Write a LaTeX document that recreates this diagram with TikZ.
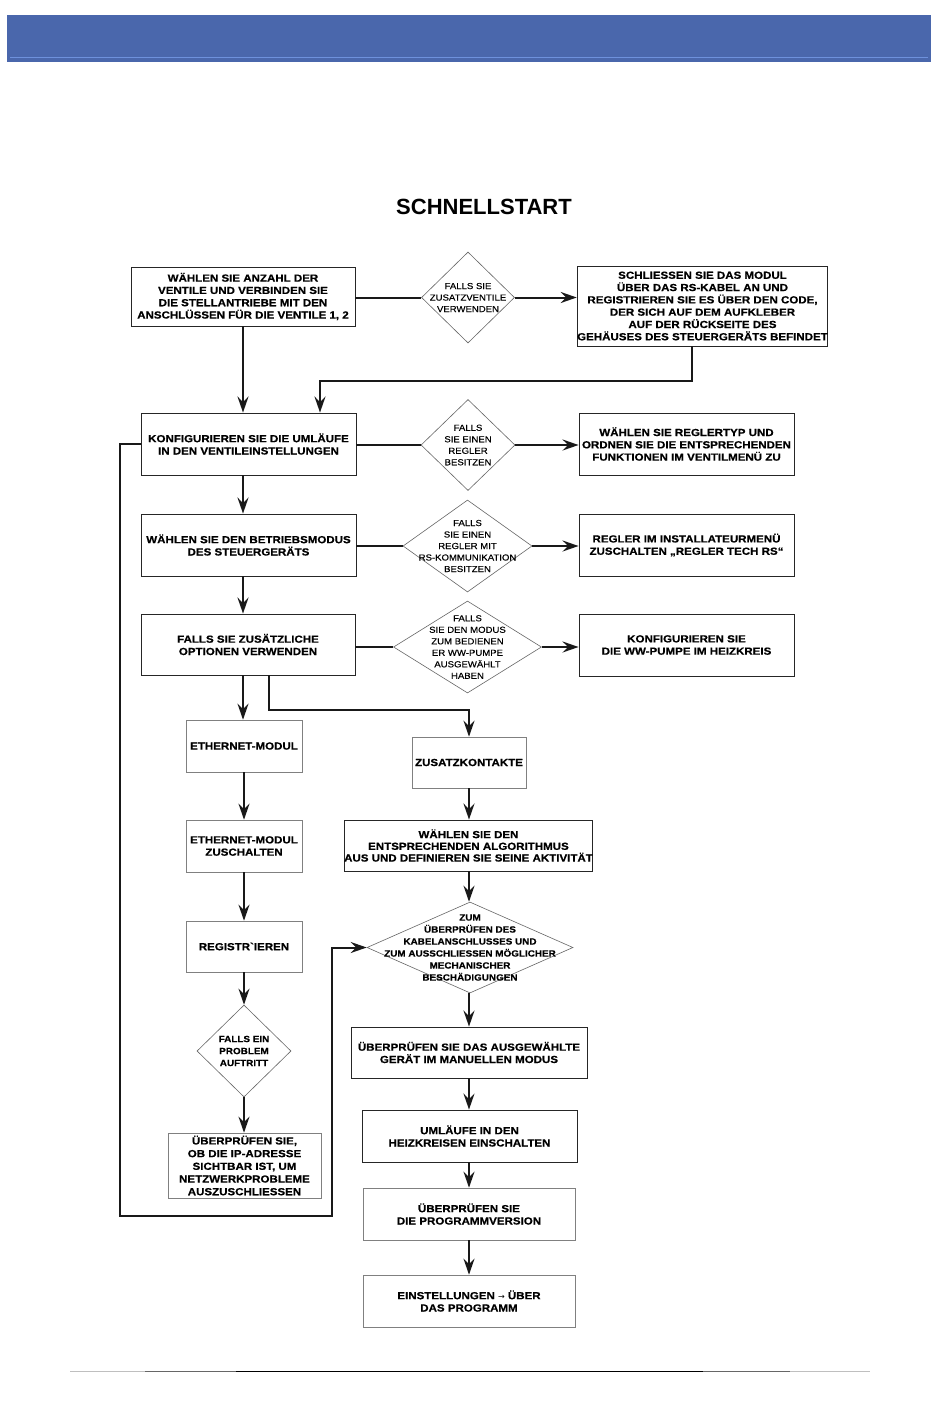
\documentclass[tikz,border=0pt]{standalone}
\usepackage{fontspec}
\setmainfont{Liberation Sans}
\newfontfamily\bxfont[FakeStretch=1.12, BoldFeatures={FakeBold=0.6}]{Liberation Sans}
\newfontfamily\dmfont[FakeStretch=1.1, FakeBold=0.3, BoldFeatures={FakeBold=0.5}]{Liberation Sans}
\newfontfamily\symfont{DejaVu Sans}
\usetikzlibrary{shapes.geometric,arrows.meta,calc}
\definecolor{hdrblue}{RGB}{74,103,172}
\definecolor{hdrline}{RGB}{110,145,220}
\begin{document}
\begin{tikzpicture}[x=1pt,y=-1pt,
 box/.style={draw=black!85, line width=0.9pt, rectangle, inner sep=0pt, align=center,
   font=\bxfont\bfseries\fontsize{10.3}{12.3}\selectfont},
 lbox/.style={box, draw=black!50, line width=0.6pt},
 diam/.style={draw=black!60, line width=0.6pt, diamond, inner sep=0pt},
 dtext/.style={align=center, inner sep=0pt, font=\dmfont\fontsize{8.7}{11.5}\selectfont},
 dbtext/.style={align=center, inner sep=0pt, font=\dmfont\bfseries\fontsize{9}{12}\selectfont},
 conn/.style={line width=2pt, draw=black!90},
 arr/.style={conn, -{Stealth[length=16pt,width=11pt,inset=5.5pt]}},
 ]
\useasboundingbox (0,0) rectangle (950,1408);
\fill[white] (0,0) rectangle (950,1408);

% header band
\fill[hdrblue] (7,15) rectangle (931,62);
\draw[hdrline, line width=1pt] (10,57) -- (928,57);

% title
\node[font=\bfseries\fontsize{22}{26}\selectfont] (title) at (484,207) {SCHNELLSTART};

% row 1
\node[box, minimum width=224pt, minimum height=59pt] (B1) at (243,296.5)
  {WÄHLEN SIE ANZAHL DER\\VENTILE UND VERBINDEN SIE\\DIE STELLANTRIEBE MIT DEN\\ANSCHLÜSSEN FÜR DIE VENTILE 1, 2};
\node[diam, minimum width=93pt, minimum height=91pt] (D1) at (468,297.5) {};
\node[dtext] (D1t) at (D1) {FALLS SIE\\ZUSATZVENTILE\\VERWENDEN};
\node[box, minimum width=247pt, minimum height=80pt] (B2) at (702.5,306)
  {SCHLIESSEN SIE DAS MODUL\\ÜBER DAS RS-KABEL AN UND\\REGISTRIEREN SIE ES ÜBER DEN CODE,\\DER SICH AUF DEM AUFKLEBER\\AUF DER RÜCKSEITE DES\\GEHÄUSES DES STEUERGERÄTS BEFINDET};

% row 2
\node[box, minimum width=215pt, minimum height=62pt] (B3) at (248.5,444)
  {KONFIGURIEREN SIE DIE UMLÄUFE\\IN DEN VENTILEINSTELLUNGEN};
\node[diam, minimum width=94pt, minimum height=91pt] (D2) at (468,445) {};
\node[dtext] (D2t) at (D2) {FALLS\\SIE EINEN\\REGLER\\BESITZEN};
\node[box, minimum width=215pt, minimum height=62pt] (B4) at (686.5,444)
  {WÄHLEN SIE REGLERTYP UND\\ORDNEN SIE DIE ENTSPRECHENDEN\\FUNKTIONEN IM VENTILMENÜ ZU};

% row 3
\node[box, minimum width=215pt, minimum height=62pt] (B5) at (248.5,545)
  {WÄHLEN SIE DEN BETRIEBSMODUS\\DES STEUERGERÄTS};
\node[diam, minimum width=129pt, minimum height=92pt] (D3) at (467.5,546) {};
\node[dtext] (D3t) at (D3) {FALLS\\SIE EINEN\\REGLER MIT\\RS-KOMMUNIKATION\\BESITZEN};
\node[box, minimum width=215pt, minimum height=62pt] (B6) at (686.5,545)
  {REGLER IM INSTALLATEURMENÜ\\ZUSCHALTEN „REGLER TECH RS“};

% row 4
\node[box, minimum width=214pt, minimum height=61pt] (B7) at (248,644.5)
  {FALLS SIE ZUSÄTZLICHE\\OPTIONEN VERWENDEN};
\node[diam, minimum width=148pt, minimum height=92pt] (D4) at (467.5,647) {};
\node[dtext] (D4t) at (D4) {FALLS\\SIE DEN MODUS\\ZUM BEDIENEN\\ER WW-PUMPE\\AUSGEWÄHLT\\HABEN};
\node[box, minimum width=215pt, minimum height=62pt] (B8) at (686.5,645)
  {KONFIGURIEREN SIE\\DIE WW-PUMPE IM HEIZKREIS};

% left column
\node[lbox, minimum width=116pt, minimum height=52pt] (B9) at (244,746) {ETHERNET-MODUL};
\node[lbox, minimum width=116pt, minimum height=52pt] (B11) at (244,846) {ETHERNET-MODUL\\ZUSCHALTEN};
\node[lbox, minimum width=116pt, minimum height=51pt] (B12) at (244,946.5) {REGISTR`IEREN};
\node[diam, minimum width=94pt, minimum height=92pt] (D5) at (244,1051) {};
\node[dbtext] (D5t) at (D5) {FALLS EIN\\PROBLEM\\AUFTRITT};
\node[lbox, minimum width=153pt, minimum height=65pt, font=\bxfont\bfseries\fontsize{10.3}{12.7}\selectfont] (B13) at (244.5,1165.5)
  {ÜBERPRÜFEN SIE,\\OB DIE IP-ADRESSE\\SICHTBAR IST, UM\\NETZWERKPROBLEME\\AUSZUSCHLIESSEN};

% right column
\node[lbox, minimum width=114pt, minimum height=51pt] (B10) at (469,762.5) {ZUSATZKONTAKTE};
\node[box, minimum width=247pt, minimum height=51pt, font=\bxfont\bfseries\fontsize{10.3}{11.7}\selectfont] (B14) at (468.5,845.5)
  {WÄHLEN SIE DEN\\ENTSPRECHENDEN ALGORITHMUS\\AUS UND DEFINIEREN SIE SEINE AKTIVITÄT};
\node[diam, minimum width=206pt, minimum height=91pt] (D7) at (470,947.5) {};
\node[dbtext] (D7t) at (D7) {ZUM\\ÜBERPRÜFEN DES\\KABELANSCHLUSSES UND\\ZUM AUSSCHLIESSEN MÖGLICHER\\MECHANISCHER\\BESCHÄDIGUNGEN};
\node[box, minimum width=236pt, minimum height=51pt] (B15) at (469,1052.5)
  {ÜBERPRÜFEN SIE DAS AUSGEWÄHLTE\\GERÄT IM MANUELLEN MODUS};
\node[box, minimum width=215pt, minimum height=52pt] (B16) at (469.5,1136)
  {UMLÄUFE IN DEN\\HEIZKREISEN EINSCHALTEN};
\node[lbox, minimum width=212pt, minimum height=52pt] (B17) at (469,1214)
  {ÜBERPRÜFEN SIE\\DIE PROGRAMMVERSION};
\node[lbox, minimum width=212pt, minimum height=52pt] (B18) at (469,1301)
  {EINSTELLUNGEN {\symfont\mdseries\fontsize{8}{10}\selectfont →} ÜBER\\DAS PROGRAMM};

% helper coordinates
\coordinate (colL) at (243,0);
\coordinate (colR) at (469,0);
\coordinate (k1) at (692,381);
\coordinate (k2) at (320,381);
\coordinate (k3) at (269,710);
\coordinate (k4) at (120,1216);
\coordinate (k5) at (332,1216);

% connectors row 1
\draw[conn] (D1.west -| B1.east) -- (D1.west);
\draw[arr] (D1.east) -- (D1.east -| B2.west);
\draw[arr] (B1.south -| colL) -- (B3.north -| colL);
\draw[arr] (B2.south -| k1) |- (k2) -- (k2 |- B3.north);

% row 2
\draw[conn] (D2.west -| B3.east) -- (D2.west);
\draw[arr] (D2.east) -- (D2.east -| B4.west);
\draw[arr] (B3.south -| colL) -- (B5.north -| colL);

% row 3
\draw[conn] (D3.west -| B5.east) -- (D3.west);
\draw[arr] (D3.east) -- (D3.east -| B6.west);
\draw[arr] (B5.south -| colL) -- (B7.north -| colL);

% row 4
\draw[conn, line width=1.1pt] (D4.west -| B7.east) -- (D4.west);
\draw[arr] (D4.east) -- (D4.east -| B8.west);
\draw[arr] (B7.south -| colL) -- (B9.north -| colL);
\draw[arr] (B7.south -| k3) |- (k3 -| B10.north) -- (B10.north);

% left column
\draw[arr] (B9.south) -- (B11.north);
\draw[arr] (B11.south) -- (B12.north);
\draw[arr] (B12.south) -- (D5.north);
\draw[arr] (D5.south) -- (D5.south |- B13.north);

% loop back
\draw[arr] (B3.west) -- (B3.west -| k4) -- (k4) -- (k5) -- (k5 |- D7.west) -- (D7.west);

% right column
\draw[arr] (B10.south -| colR) -- (B14.north -| colR);
\draw[arr] (B14.south -| colR) -- (D7.north -| colR);
\draw[arr] (D7.south -| colR) -- (B15.north -| colR);
\draw[arr] (B15.south -| colR) -- (B16.north -| colR);
\draw[arr] (B16.south -| colR) -- (B17.north -| colR);
\draw[arr] (B17.south -| colR) -- (B18.north -| colR);

% footer line
\draw[black!25, line width=0.8pt] (70,1371) -- (870,1371);
\draw[black!60, line width=0.8pt] (145,1371) -- (790,1371);
\draw[black, line width=0.8pt] (236,1371) -- (703,1371);
\end{tikzpicture}
\end{document}
